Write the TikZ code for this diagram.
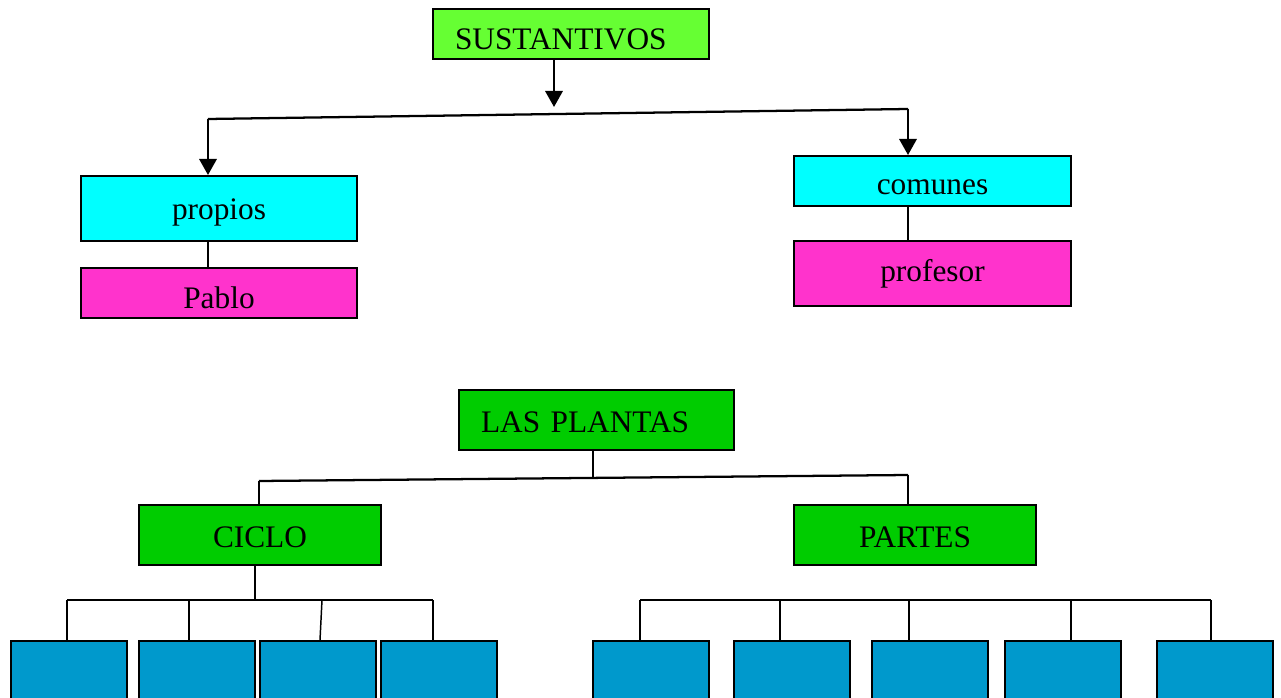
\documentclass[tikz,border=0pt]{standalone}
\usepackage{fontspec}
\setmainfont{Liberation Serif}
\usetikzlibrary{arrows.meta,positioning}
\definecolor{topgreen}{HTML}{66FF33}
\definecolor{boxcyan}{HTML}{00FFFF}
\definecolor{boxpink}{HTML}{FF33CC}
\definecolor{plantgreen}{HTML}{00CC00}
\definecolor{leafblue}{HTML}{0099CC}
\tikzset{
  box/.style      = {draw, line width=1.5pt, inner sep=0pt,
                     font=\fontsize{23.5}{28}\selectfont},
  titlebox/.style = {box, text width=#1, inner xsep=16.5pt, align=left,
                     minimum height=37.5pt},
  low/.style      = {text height=#1, text depth=0pt},
  leaf/.style     = {draw, line width=1.5pt, fill=leafblue, anchor=north,
                     minimum width=87pt, minimum height=70pt},
  wire/.style     = {line width=1.7pt},
  thinwire/.style = {line width=1.1pt},
  arr/.style      = {-{Triangle[length=12pt,width=13pt]}, line width=1.7pt},
}

\begin{document}
\begin{tikzpicture}[x=0.75pt,y=-0.75pt]
  \clip (0,0) rectangle (1281,698);
  % upper map
  \node[titlebox=174pt, fill=topgreen, low=24pt] (sust) at (571,34) {SUSTANTIVOS};
  \node[box, fill=boxcyan, minimum width=207pt, minimum height=48.75pt, low=17pt] (prop) at (219,208.5) {propios};
  \node[box, fill=boxpink, minimum width=207pt, minimum height=37.5pt, low=24pt] (pablo) at (219,293) {Pablo};
  \node[box, fill=boxcyan, minimum width=207.75pt, minimum height=37.5pt, low=21pt] (comu) at (932.5,181) {comunes};
  \node[box, fill=boxpink, minimum width=207.75pt, minimum height=48.75pt] (prof) at (932.5,273.5) {profesor};
  \coordinate (sj) at (554,107);
  \coordinate (sl) at (208,119);
  \coordinate (sr) at (908,109);
  \draw[arr] (sust.south -| sj) -- (sj);
  \draw[wire] (sl) -- (sr);
  \draw[arr] (sl) -- (sl |- prop.north);
  \draw[arr] (sr) -- (sr |- comu.north);
  \draw[thinwire] (prop.south -| sl) -- (pablo.north -| sl);
  \draw[thinwire] (comu.south -| sr) -- (prof.north -| sr);

  % lower map
  \node[titlebox=173.25pt, fill=plantgreen, minimum height=45pt, low=18.5pt] (plantas) at (596.5,420) {LAS PLANTAS};
  \node[box, fill=plantgreen, minimum width=181.5pt, minimum height=45pt, low=18.5pt] (ciclo) at (260,535) {CICLO};
  \node[box, fill=plantgreen, minimum width=181.5pt, minimum height=45pt, low=18.5pt] (partes) at (915,535) {PARTES};
  \coordinate (pj) at (593,477);
  \coordinate (pl) at (259,481);
  \coordinate (pr) at (908,475);
  \draw[thinwire] (plantas.south -| pj) -- (pj);
  \draw[wire] (pl) -- (pr);
  \draw[thinwire] (pl) -- (pl |- ciclo.north);
  \draw[thinwire] (pr) -- (pr |- partes.north);

  % ciclo branches
  \coordinate (cb) at (255,600);
  \draw[thinwire] (ciclo.south -| cb) -- (cb);
  \foreach \name/\cx/\dx/\tx in {c1/68.5/67/67, c2/197/189/189, c3/318/322/320, c4/439/433/433} {
    \node[leaf] (\name) at (\cx,640) {};
    \coordinate (\name top) at (\dx,600);
    \draw[thinwire] (\name top) -- (\name.north -| \tx,0);
  }
  \draw[wire] (c1top) -- (c4top);

  % partes branches
  \foreach \name/\cx/\dx in {p1/651/640, p2/792/780, p3/930/909, p4/1063/1071, p5/1215/1211} {
    \node[leaf] (\name) at (\cx,640) {};
    \coordinate (\name top) at (\dx,600);
    \draw[thinwire] (\name top) -- (\name.north -| \name top);
  }
  \draw[wire] (p1top) -- (p5top);
\end{tikzpicture}
\end{document}
